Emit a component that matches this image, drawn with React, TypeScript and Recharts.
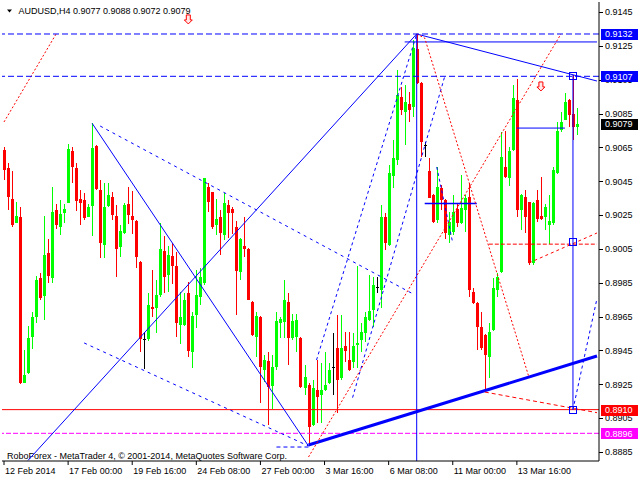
import React from 'react';
import { ComposedChart, Bar, Line, XAxis, YAxis, ReferenceLine, ReferenceDot, Customized } from 'recharts';

// ---- candle data (AUDUSD H4) ----
const opens = [
  0.90634, 0.90526, 0.90345, 0.90205, 0.90238, 0.89259, 0.89315, 0.89531, 0.89649, 0.89880,
  0.89773, 0.90024, 0.89880, 0.90280, 0.90181, 0.90264, 0.90323, 0.90629, 0.90526, 0.90345,
  0.90339, 0.90240, 0.90305, 0.90658, 0.90398, 0.90073, 0.90303, 0.90358, 0.90244, 0.90063,
  0.90142, 0.90317, 0.90246, 0.90215, 0.89974, 0.89517, 0.89517, 0.89708, 0.89699, 0.89777,
  0.90038, 0.89896, 0.90008, 0.89949, 0.89600, 0.89600, 0.89788, 0.89442, 0.89659, 0.89763,
  0.89847, 0.90418, 0.90384, 0.90191, 0.90240, 0.90132, 0.90309, 0.90284, 0.90178, 0.89915,
  0.90067, 0.90049, 0.89738, 0.89531, 0.89649, 0.89334, 0.89387, 0.89240, 0.89350, 0.89610,
  0.89620, 0.89734, 0.89522, 0.89531, 0.89522, 0.89228, 0.89246, 0.89009, 0.89216, 0.89186,
  0.89216, 0.89257, 0.89352, 0.89464, 0.89287, 0.89476, 0.89393, 0.89382, 0.89482, 0.89512,
  0.89553, 0.89630, 0.89689, 0.89825, 0.89807, 0.90238, 0.90073, 0.90481, 0.90575, 0.90948,
  0.90859, 0.90906, 0.90889, 0.91231, 0.91030, 0.90664, 0.90510, 0.90368, 0.90221, 0.90410,
  0.90339, 0.90132, 0.90150, 0.90286, 0.90203, 0.90280, 0.90357, 0.89795, 0.89730, 0.89588,
  0.89541, 0.89411, 0.89571, 0.89807, 0.89913, 0.90534, 0.90469, 0.90634, 0.90930, 0.90280,
  0.90357, 0.90327, 0.89967, 0.90339, 0.90244, 0.90238, 0.90191, 0.90203, 0.90499, 0.90753,
  0.90812, 0.90930, 0.90847, 0.90770,
];
const highs = [
  0.90652, 0.90559, 0.90510, 0.90327, 0.90298, 0.89452, 0.89594, 0.89679, 0.89890, 0.89908,
  0.90244, 0.90108, 0.90414, 0.90315, 0.90339, 0.90314, 0.90670, 0.90654, 0.90559, 0.90398,
  0.90379, 0.90314, 0.90792, 0.90662, 0.90457, 0.90438, 0.90441, 0.90388, 0.90309, 0.90191,
  0.90320, 0.90414, 0.90394, 0.90220, 0.89980, 0.89561, 0.89791, 0.89925, 0.89866, 0.90201,
  0.90126, 0.90067, 0.90083, 0.90033, 0.89797, 0.89789, 0.89856, 0.89679, 0.89925, 0.89935,
  0.90470, 0.90438, 0.90388, 0.90343, 0.90280, 0.90379, 0.90339, 0.90299, 0.90217, 0.90113,
  0.90240, 0.90053, 0.89742, 0.89679, 0.89655, 0.89423, 0.89442, 0.89423, 0.89679, 0.89649,
  0.89866, 0.89788, 0.89663, 0.89665, 0.89529, 0.89364, 0.89257, 0.89275, 0.89393, 0.89376,
  0.89441, 0.89376, 0.89553, 0.89659, 0.89659, 0.89559, 0.89559, 0.89553, 0.89949, 0.89612,
  0.89677, 0.89896, 0.89884, 0.89884, 0.90309, 0.90262, 0.90546, 0.90694, 0.91107, 0.91007,
  0.91019, 0.90977, 0.91285, 0.91320, 0.91035, 0.90682, 0.90587, 0.90372, 0.90534, 0.90428,
  0.90343, 0.90268, 0.90368, 0.90321, 0.90487, 0.90368, 0.90439, 0.89819, 0.89735, 0.89677,
  0.89545, 0.89612, 0.89878, 0.89908, 0.90741, 0.90747, 0.90652, 0.91019, 0.91054, 0.90372,
  0.90398, 0.90330, 0.90327, 0.90398, 0.90475, 0.90315, 0.90368, 0.90534, 0.90800, 0.90859,
  0.90971, 0.90935, 0.91078, 0.90880,
];
const lows = [
  0.90457, 0.90280, 0.90181, 0.90200, 0.89252, 0.89256, 0.89312, 0.89462, 0.89610, 0.89748,
  0.89630, 0.89847, 0.89847, 0.90166, 0.90132, 0.90201, 0.90320, 0.90441, 0.90276, 0.90191,
  0.90217, 0.90237, 0.90122, 0.90398, 0.89994, 0.89994, 0.90300, 0.90221, 0.89882, 0.90004,
  0.90138, 0.90197, 0.90138, 0.89935, 0.89442, 0.89344, 0.89510, 0.89646, 0.89551, 0.89764,
  0.89788, 0.89797, 0.89843, 0.89531, 0.89492, 0.89595, 0.89413, 0.89350, 0.89581, 0.89718,
  0.89837, 0.90264, 0.90172, 0.90132, 0.90014, 0.90103, 0.90113, 0.90142, 0.89659, 0.89866,
  0.90004, 0.89746, 0.89535, 0.89413, 0.89143, 0.89265, 0.89009, 0.89102, 0.89334, 0.89522,
  0.89522, 0.89360, 0.89512, 0.89442, 0.89228, 0.89186, 0.88885, 0.89005, 0.89021, 0.89021,
  0.89210, 0.89250, 0.89186, 0.89080, 0.89275, 0.89382, 0.89330, 0.89346, 0.89346, 0.89441,
  0.89500, 0.89625, 0.89588, 0.89789, 0.89701, 0.90043, 0.90070, 0.90410, 0.90546, 0.90841,
  0.90664, 0.90800, 0.90829, 0.91025, 0.90593, 0.90593, 0.90348, 0.90203, 0.90203, 0.90280,
  0.90108, 0.90085, 0.90132, 0.90179, 0.90200, 0.90150, 0.89766, 0.89725, 0.89452, 0.89452,
  0.89204, 0.89287, 0.89565, 0.89766, 0.89908, 0.90469, 0.90422, 0.90630, 0.90238, 0.90162,
  0.90144, 0.89955, 0.89955, 0.90209, 0.90223, 0.90162, 0.90079, 0.90191, 0.90495, 0.90741,
  0.90810, 0.90770, 0.90694, 0.90720,
];
const closes = [
  0.90516, 0.90355, 0.90191, 0.90244, 0.89257, 0.89305, 0.89525, 0.89647, 0.89866, 0.89762,
  0.90014, 0.89892, 0.90268, 0.90191, 0.90256, 0.90286, 0.90639, 0.90536, 0.90335, 0.90323,
  0.90234, 0.90296, 0.90644, 0.90404, 0.90083, 0.90299, 0.90370, 0.90250, 0.90049, 0.90158,
  0.90311, 0.90250, 0.90221, 0.90004, 0.89517, 0.89517, 0.89718, 0.89693, 0.89777, 0.90048,
  0.89882, 0.90014, 0.89951, 0.89614, 0.89649, 0.89748, 0.89447, 0.89653, 0.89777, 0.89884,
  0.90467, 0.90325, 0.90181, 0.90227, 0.90142, 0.90319, 0.90264, 0.90260, 0.89921, 0.90107,
  0.90049, 0.89748, 0.89541, 0.89655, 0.89354, 0.89393, 0.89232, 0.89350, 0.89624, 0.89634,
  0.89748, 0.89522, 0.89624, 0.89630, 0.89234, 0.89293, 0.88997, 0.89228, 0.89175, 0.89216,
  0.89246, 0.89334, 0.89352, 0.89275, 0.89464, 0.89447, 0.89334, 0.89476, 0.89494, 0.89559,
  0.89647, 0.89683, 0.89837, 0.89825, 0.90238, 0.90085, 0.90499, 0.90587, 0.90959, 0.90871,
  0.90918, 0.90871, 0.91237, 0.91030, 0.90682, 0.90664, 0.90351, 0.90209, 0.90416, 0.90339,
  0.90144, 0.90209, 0.90268, 0.90203, 0.90292, 0.90351, 0.89807, 0.89730, 0.89588, 0.89464,
  0.89423, 0.89559, 0.89819, 0.89884, 0.90593, 0.90475, 0.90629, 0.90942, 0.90280, 0.90368,
  0.90238, 0.89967, 0.90320, 0.90227, 0.90227, 0.90298, 0.90215, 0.90516, 0.90747, 0.90800,
  0.90918, 0.90841, 0.90770, 0.90790,
];

// ---- axis ----
const SLOTS = 149; // bar slots incl. right shift
const priceTicks = [0.8885, 0.8905, 0.8925, 0.8945, 0.8965, 0.8985, 0.9005, 0.9025, 0.9045, 0.9065, 0.9085, 0.9105, 0.9125, 0.9145];
const yMin = 0.887964;
const yMax = 0.915091;
const dateTickBars = [0, 16, 32, 48, 64, 80, 96, 112, 128];
const dateLabels = ['12 Feb 2014', '17 Feb 00:00', '19 Feb 16:00', '24 Feb 08:00', '27 Feb 00:00', '3 Mar 16:00', '6 Mar 08:00', '11 Mar 00:00', '13 Mar 16:00'];

// ---- drawn objects: [bar index, price] ----
const upLong = [[6, 0.88800], [103, 0.91320]];
const downFeb = [[22, 0.90792], [76, 0.88885]];
const supportThick = [[76, 0.88891], [148, 0.89417]];
const resistTop = [[103, 0.91320], [148, 0.91042]];
const flatTop = [[100, 0.91273], [148, 0.91273]];
const flatMid = [[128, 0.90764], [140, 0.90764]];
const flatLow = [[105, 0.90318], [118, 0.90318]];
const dashA = [[24, 0.90776], [102, 0.89785]];
const dashB = [[20, 0.89494], [76, 0.88885]];
const dashC = [[78, 0.89393], [103, 0.91320]];
const dashD = [[87, 0.89171], [110, 0.91070]];
const dashE = [[108, 0.90534], [112, 0.90085]];
const dashF = [[142, 0.89100], [148, 0.89757]];
const dashG = [[68, 0.88879], [76, 0.88879]];
const redA = [[0, 0.90800], [13, 0.91320]];
const redB = [[76, 0.88820], [139, 0.91320]];
const redC = [[103, 0.91320], [105, 0.91296], [131, 0.89293]];
const redD = [[120, 0.89204], [148, 0.89082]];
const redE = [[121, 0.90078], [148, 0.90078]];
const redF = [[131, 0.89967], [148, 0.90144]];
const vertA = [103, 0.91320, yMin];
const vertB = [142, 0.91078, 0.89100];
const arrows = [[46, 0.91403], [134, 0.91007]];
const squares = [[142, 0.91070], [142, 0.90088], [142, 0.89100]];
const levelTop = 0.9132;
const levelUpper = 0.9107;
const levelSupport = 0.8910;
const levelMagenta = 0.8896;
const bidPrice = 0.9079;
const boxLevels = [levelTop, levelUpper, bidPrice, levelSupport, levelMagenta];
const title = 'AUDUSD,H4  0.9077 0.9088 0.9072 0.9079';
const footer = 'RoboForex - MetaTrader 4, \u00A9 2001-2014, MetaQuotes Software Corp.';

const lineSets: Record<string, number[][]> = {
  upLong, downFeb, supportThick, resistTop, flatTop, flatMid, flatLow,
  dashA, dashB, dashC, dashD, dashE, dashF, dashG,
  redA, redB, redC, redD, redE, redF,
};

const data: any[] = [];
for (let i = 0; i < SLOTS; i++) {
  const row: any = { i };
  if (i < opens.length) {
    row.o = opens[i]; row.h = highs[i]; row.l = lows[i]; row.c = closes[i];
    row.range = [lows[i], highs[i]];
  }
  data.push(row);
}
Object.keys(lineSets).forEach((k) => {
  lineSets[k].forEach(([idx, p]) => { data[idx][k] = p; });
});

// plain price ticks first, the coloured level boxes last so they are painted on top
const axisTicks = [...priceTicks, ...boxLevels];

const FONT = '"Liberation Sans", Arial, sans-serif';
const BLUE = '#0000FF';
const RED = '#FF0000';
const GREEN = '#00FF00';
const MAGENTA = '#FF00FF';
const boxColor = (v: number) =>
  v === levelTop || v === levelUpper ? BLUE : v === levelSupport ? RED : v === levelMagenta ? MAGENTA : '#000000';

const Candle = (props: any) => {
  const { x, y, width, height, payload } = props;
  if (!payload || payload.h == null) return null;
  const { o, h, l, c } = payload;
  const top = Math.min(y, y + height);
  const span = Math.abs(height);
  const py = (p: number) => (h === l ? top : top + ((h - p) / (h - l)) * span);
  const cx = Math.floor(x + width / 2);
  const color = c > o ? GREEN : c < o ? RED : '#000000';
  const yo = py(o);
  const yc = py(c);
  const bt = Math.round(Math.min(yo, yc));
  const bb = Math.round(Math.max(yo, yc));
  return (
    <g shapeRendering="crispEdges">
      <rect x={cx} y={Math.round(top)} width={1} height={Math.max(1, Math.round(span))} fill={color} />
      <rect x={cx - 1} y={bt} width={3} height={Math.max(1, bb - bt)} fill={color} />
    </g>
  );
};

const DateTick = (props: any) => {
  const { x, y, payload } = props;
  const idx = dateTickBars.indexOf(payload.value);
  if (idx < 0) return null;
  return (
    <text x={x + 1} y={y + 9} fill="#000" fontSize={9} fontFamily={FONT} textAnchor="start">
      {dateLabels[idx]}
    </text>
  );
};

const PriceTick = (p: any) => {
  const { x, y, payload, index } = p;
  const v = payload.value;
  if (index >= priceTicks.length) {
    const bx = x + 2;
    return (
      <g>
        <rect x={bx} y={Math.round(y) - 5.5} width={37} height={11} fill={boxColor(v)} shapeRendering="crispEdges" />
        <text x={bx + 4} y={y + 3.3} fill="#FFFFFF" fontSize={9} fontFamily={FONT}>{v.toFixed(4)}</text>
      </g>
    );
  }
  return (
    <g>
      <line x1={x} x2={x + 4} y1={Math.round(y) + 0.5} y2={Math.round(y) + 0.5} stroke="#000" />
      <text x={x + 6} y={y + 3.3} fill="#000" fontSize={9} fontFamily={FONT}>{v.toFixed(4)}</text>
    </g>
  );
};

const Arrow = (p: any) => {
  const { cx, cy } = p;
  const d = `M${cx - 2},${cy - 5} L${cx + 2},${cy - 5} L${cx + 2},${cy} L${cx + 4},${cy} L${cx},${cy + 4} L${cx - 4},${cy} L${cx - 2},${cy} Z`;
  return <path d={d} fill="#FFE8E8" stroke={RED} strokeWidth={1} />;
};

const Square = (p: any) => {
  const { cx, cy } = p;
  return <rect x={Math.round(cx) - 3.5} y={Math.round(cy) - 3.5} width={7} height={7} fill="none" stroke={BLUE} strokeWidth={1} />;
};

const Texts = () => (
  <g fontFamily={FONT} fontSize={9} fill="#000">
    <polygon points="7,9.5 12,9.5 9.5,12.5" fill="#000" />
    <text x={18.5} y={14.2}>{title}</text>
    <text x={7} y={458.5}>{footer}</text>
  </g>
);

const lineStyle = (stroke: string, width = 1, dash?: string) => ({
  stroke, strokeWidth: width, strokeDasharray: dash,
});

export default function App() {
  const lines: [string, any][] = [
    ['upLong', lineStyle(BLUE)],
    ['downFeb', lineStyle(BLUE)],
    ['supportThick', lineStyle(BLUE, 3)],
    ['resistTop', lineStyle(BLUE)],
    ['flatTop', lineStyle(BLUE)],
    ['flatMid', lineStyle(BLUE)],
    ['flatLow', lineStyle(BLUE, 1.5)],
    ['dashA', lineStyle(BLUE, 1, '3 4')],
    ['dashB', lineStyle(BLUE, 1, '3 4')],
    ['dashC', lineStyle(BLUE, 1, '3 3')],
    ['dashD', lineStyle(BLUE, 1, '3 3')],
    ['dashE', lineStyle(BLUE, 1, '3 3')],
    ['dashF', lineStyle(BLUE, 1, '3 3')],
    ['dashG', lineStyle(BLUE, 1, '4 3')],
    ['redA', lineStyle(RED, 1, '2 2')],
    ['redB', lineStyle(RED, 1, '2 2')],
    ['redC', lineStyle(RED, 1, '2 2')],
    ['redD', lineStyle(RED, 1, '4 3')],
    ['redE', lineStyle(RED, 1, '4 2')],
    ['redF', lineStyle(RED, 1, '3 3')],
  ];
  return (
    <div style={{ position: 'absolute', left: 0, top: 0, width: 640, height: 480, background: '#fff' }}>
      <ComposedChart
        width={640}
        height={480}
        data={data}
        margin={{ top: 2, right: 2, bottom: 0, left: 2 }}
        style={{ fontFamily: FONT }}
      >
        <XAxis
          dataKey="i"
          type="category"
          ticks={dateTickBars}
          interval={0}
          height={19}
          tickSize={4}
          tickMargin={0}
          axisLine={{ stroke: '#000' }}
          tickLine={{ stroke: '#000' }}
          tick={<DateTick />}
        />
        <XAxis xAxisId="top" dataKey="i" orientation="top" height={0} tick={false} tickLine={false} axisLine={{ stroke: '#000' }} />
        <YAxis
          orientation="right"
          domain={[yMin, yMax]}
          allowDataOverflow
          ticks={axisTicks}
          interval={0}
          width={39}
          tickSize={0}
          tickMargin={0}
          axisLine={{ stroke: '#000' }}
          tickLine={false}
          tick={<PriceTick />}
        />
        <YAxis yAxisId="left" orientation="left" width={0} domain={[yMin, yMax]} tick={false} tickLine={false} axisLine={{ stroke: '#000' }} />

        <ReferenceLine y={levelSupport} stroke={RED} strokeWidth={1} />
        <ReferenceLine y={levelMagenta} stroke={MAGENTA} strokeDasharray="5 2" />

        <Bar dataKey="range" barSize={3} shape={<Candle />} isAnimationActive={false} />

        {lines.map(([k, s]) => (
          <Line
            key={k}
            dataKey={k}
            type="linear"
            connectNulls
            dot={false}
            activeDot={false}
            isAnimationActive={false}
            {...s}
          />
        ))}

        <ReferenceLine segment={[{ x: vertA[0], y: vertA[1] }, { x: vertA[0], y: vertA[2] }]} stroke={BLUE} />
        <ReferenceLine segment={[{ x: vertB[0], y: vertB[1] }, { x: vertB[0], y: vertB[2] }]} stroke={BLUE} />

        <ReferenceLine y={levelTop} stroke={BLUE} strokeDasharray="6 3" />
        <ReferenceLine y={levelUpper} stroke={BLUE} strokeDasharray="6 3" />

        {arrows.map(([x, y], n) => (
          <ReferenceDot key={'a' + n} x={x} y={y} r={0} shape={(p: any) => <Arrow {...p} />} />
        ))}
        {squares.map(([x, y], n) => (
          <ReferenceDot key={'s' + n} x={x} y={y} r={0} shape={(p: any) => <Square {...p} />} />
        ))}
        <Customized component={Texts} />
      </ComposedChart>
    </div>
  );
}
